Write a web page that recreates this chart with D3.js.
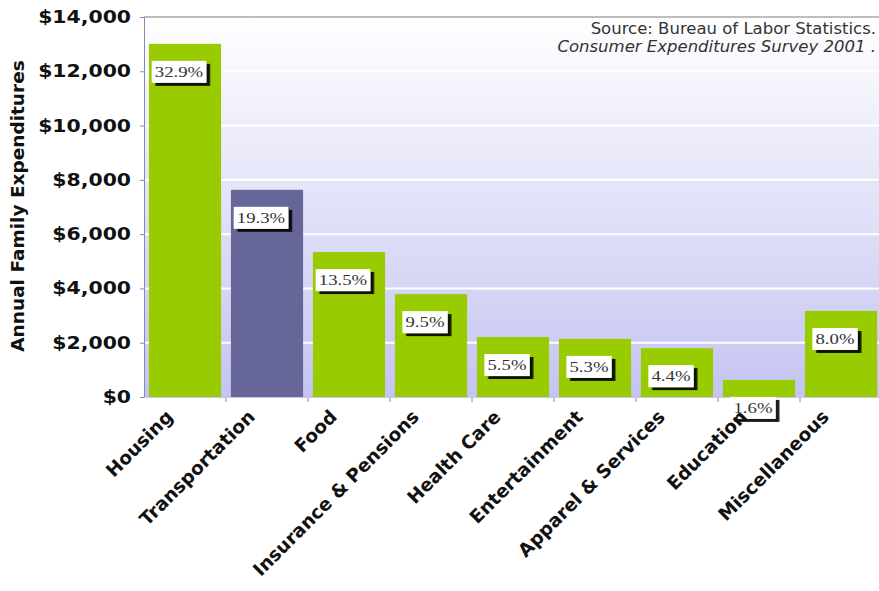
<!DOCTYPE html>
<html><head><meta charset="utf-8">
<script src="https://cdn.jsdelivr.net/npm/d3@7"></script>
<style>body{margin:0;background:#fff;}svg{display:block;}</style>
</head><body>
<svg id="chart" width="879" height="591"></svg>
<script>
const categories = ["Housing","Transportation","Food","Insurance & Pensions","Health Care","Entertainment","Apparel & Services","Education","Miscellaneous"];
const values = [13011, 7633, 5340, 3790, 2210, 2140, 1800, 630, 3170];
const shares = ["32.9%","19.3%","13.5%","9.5%","5.5%","5.3%","4.4%","1.6%","8.0%"];
const highlight = ["Transportation"];
const yTicks = [0,2000,4000,6000,8000,10000,12000,14000];

const svg = d3.select("#chart");
const m = {left:144, top:17, right:882, bottom:397};
const x = d3.scaleBand().domain(categories).range([m.left, m.right]).paddingInner(0.12).paddingOuter(0.06);
const y = d3.scaleLinear().domain([0,14000]).range([m.bottom, m.top]);

const defs = svg.append("defs");
const g = defs.append("linearGradient").attr("id","bg").attr("x1",0).attr("y1",0).attr("x2",0).attr("y2",1);
g.append("stop").attr("offset","0%").attr("stop-color","#ffffff");
g.append("stop").attr("offset","100%").attr("stop-color","#c4c4f2");
const f = defs.append("filter").attr("id","sh").attr("x","-20%").attr("y","-20%").attr("width","150%").attr("height","160%");
f.append("feDropShadow").attr("dx",3).attr("dy",3).attr("stdDeviation",0.6).attr("flood-color","#000").attr("flood-opacity",0.9);

svg.append("rect").attr("x",m.left).attr("y",m.top).attr("width",m.right-m.left).attr("height",m.bottom-m.top).attr("fill","url(#bg)");

// gridlines
svg.append("g").selectAll("line").data(yTicks.filter(d=>d>0 && d<14000)).join("line")
  .attr("x1",m.left).attr("x2",m.right).attr("y1",d=>y(d)).attr("y2",d=>y(d))
  .attr("stroke","#ffffff").attr("stroke-width",2);
svg.append("line").attr("x1",m.left).attr("x2",m.right).attr("y1",m.top).attr("y2",m.top).attr("stroke","#a8a8a8").attr("stroke-width",1.5);

// bars
svg.append("g").selectAll("rect").data(categories).join("rect")
  .attr("x",d=>x(d)).attr("width",x.bandwidth())
  .attr("y",(d,i)=>y(values[i])).attr("height",(d,i)=>m.bottom-y(values[i]))
  .attr("fill",d=>highlight.includes(d)?"#666699":"#99cc00");

// axes
const ya = d3.axisLeft(y).tickValues(yTicks).tickFormat(d=>"$"+d3.format(",")(d)).tickSize(4).tickPadding(13);
const yg = svg.append("g").attr("transform",`translate(${m.left},0)`).call(ya);
yg.select(".domain").attr("stroke","#8888aa");
yg.selectAll(".tick line").attr("stroke","#8888aa");
yg.selectAll("text").attr("font-family","DejaVu Sans").attr("font-weight","bold").attr("font-size",17).attr("fill","#111")
  .attr("transform","scale(1.2,1)").attr("x",-13/1.2);

// x ticks at band boundaries
const bounds = categories.map(c=>x(c)-x.step()*x.paddingInner()/2);
svg.append("g").selectAll("line").data(bounds.slice(1)).join("line")
  .attr("x1",d=>d).attr("x2",d=>d).attr("y1",m.bottom).attr("y2",m.bottom+5).attr("stroke","#8888aa");
svg.append("line").attr("x1",m.left).attr("x2",m.right).attr("y1",m.bottom+0.5).attr("y2",m.bottom+0.5).attr("stroke","#c8c8e8");

// value labels
const lg = svg.append("g").selectAll("g").data(categories).join("g")
  .attr("transform",(d,i)=>`translate(${x(d)+x.bandwidth()/2-6},${y(values[i])+28}) scale(1.25,1)`);
lg.each(function(d,i){
  const s = d3.select(this);
  const t = s.append("text").attr("text-anchor","middle").attr("dy","0.35em")
    .attr("font-family","Liberation Serif").attr("font-size",15).attr("fill","#333").text(shares[i]);
  const w = t.node().getComputedTextLength()+5;
  s.insert("rect","text").attr("x",-w/2).attr("y",-11).attr("width",w).attr("height",22).attr("fill","#fff").attr("filter","url(#sh)");
});

// x labels
svg.append("g").selectAll("text").data(categories).join("text")
  .attr("transform",d=>`translate(${x(d)+x.bandwidth()/2-11},${m.bottom+21}) rotate(-45)`)
  .attr("text-anchor","end").attr("font-family","DejaVu Sans").attr("font-weight","bold").attr("font-size",18.5).attr("fill","#111")
  .text(d=>d);

// y title
svg.append("text").attr("transform","translate(24,206) rotate(-90)").attr("text-anchor","middle")
  .attr("font-family","DejaVu Sans").attr("font-weight","bold").attr("font-size",18.5).attr("fill","#111")
  .text("Annual Family Expenditures");

// source
svg.append("text").attr("x",876).attr("y",34).attr("text-anchor","end").attr("font-family","DejaVu Sans").attr("font-size",16.5).attr("fill","#333")
  .text("Source: Bureau of Labor Statistics.");
svg.append("text").attr("x",876).attr("y",52).attr("text-anchor","end").attr("font-family","DejaVu Sans").attr("font-style","italic").attr("font-size",16.5).attr("fill","#333")
  .text("Consumer Expenditures Survey 2001 .");
</script>
</body></html>
